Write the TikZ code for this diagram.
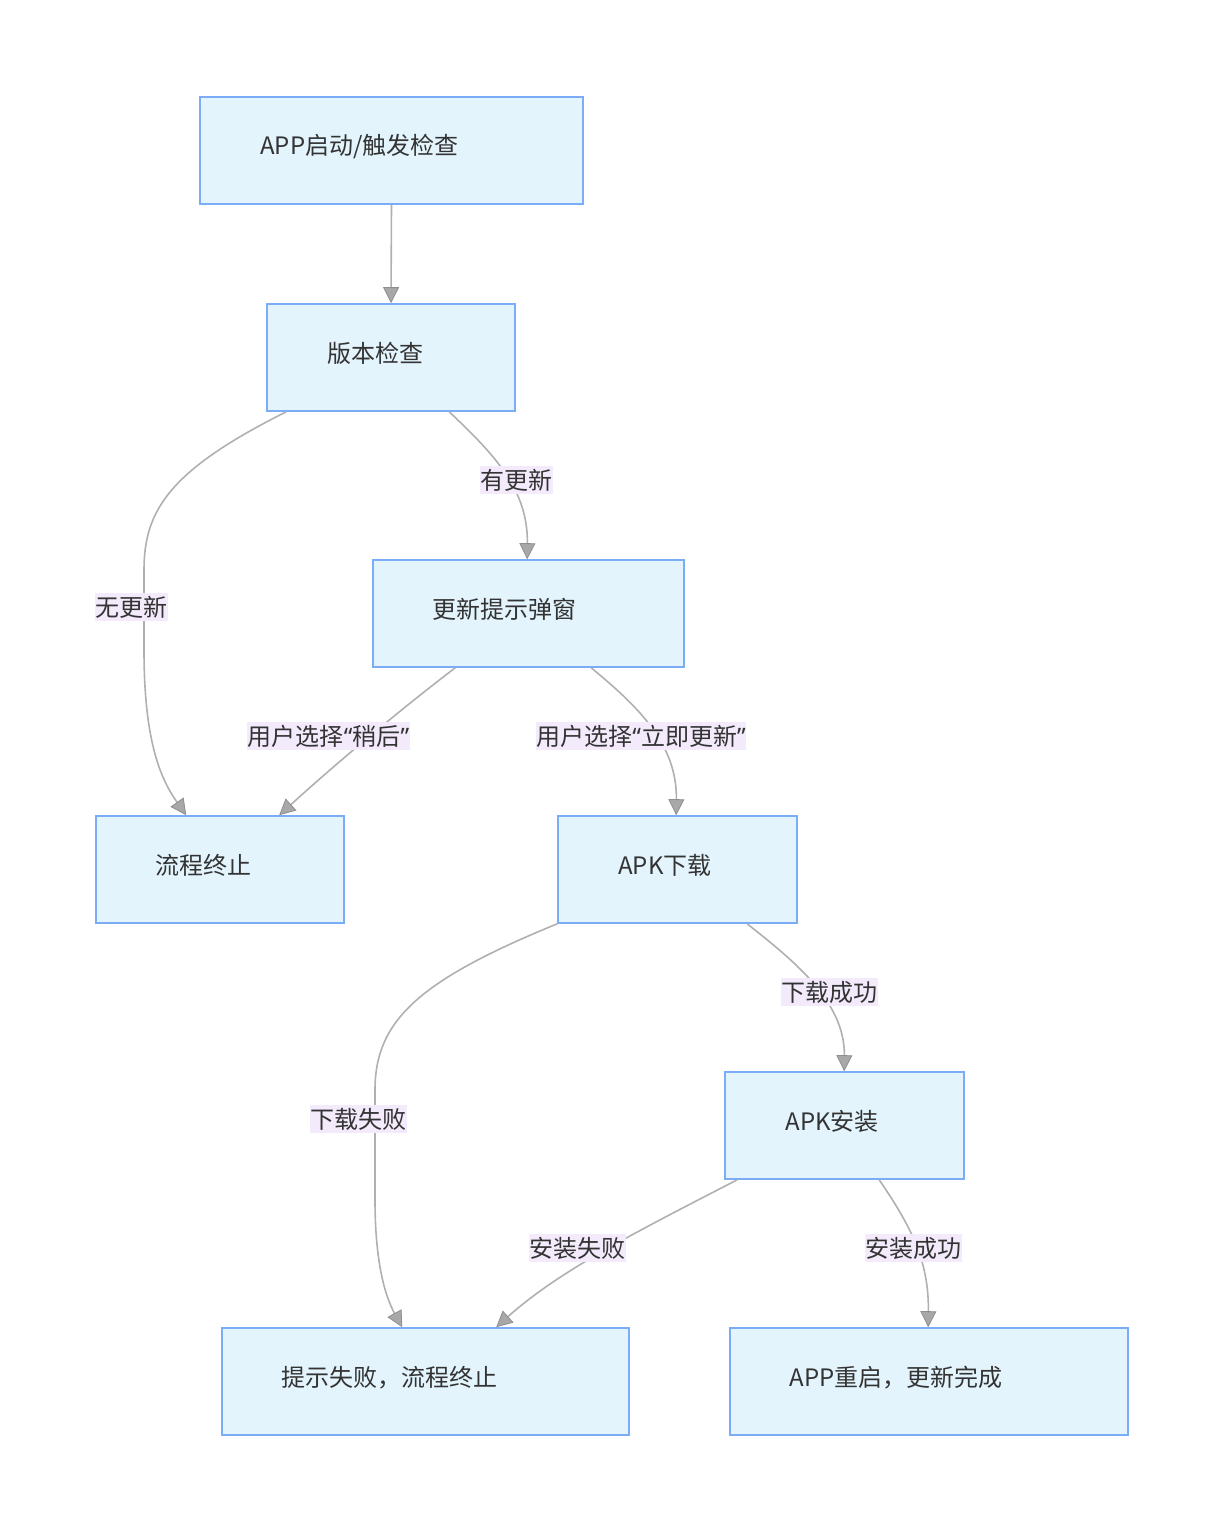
\documentclass[tikz,border=0pt]{standalone}
\usepackage{fontspec}
\newfontfamily\cjk{Noto Sans CJK SC}
\newfontfamily\qf{Noto Sans}
\newcommand{\myLq}{{\qf“}}
\newcommand{\myRq}{{\qf”}}
\usetikzlibrary{arrows.meta}
\definecolor{boxfill}{HTML}{E3F4FD}
\definecolor{boxline}{HTML}{7AACF8}
\definecolor{edgeline}{HTML}{B0B0B0}
\definecolor{tipfill}{HTML}{A8A8A8}
\definecolor{tipline}{HTML}{8E8E8E}
\definecolor{lblfill}{HTML}{F3EBFC}
\definecolor{txt}{HTML}{333333}
\tikzset{
  flowbox/.style={draw=boxline, fill=boxfill, line width=1.6pt, rectangle, minimum height=107pt, inner sep=0pt},
  boxtext/.style={font=\cjk\fontsize{24}{28}\selectfont, text=txt, anchor=west, inner sep=0pt},
  edgelbl/.style={font=\cjk\fontsize{24}{28}\selectfont, text=txt, fill=lblfill, inner xsep=0.5pt, inner ysep=3pt},
  conn/.style={draw=edgeline, line width=1.6pt, -{Triangle[length=16pt,width=16pt,fill=tipfill,color=tipline,line width=0.8pt]}},
}
\begin{document}
\begin{tikzpicture}[x=1pt,y=-1pt]
\useasboundingbox (0,0) rectangle (1224,1532);
% boxes
\node[flowbox, minimum width=383pt] (A) at (391.5,150.5) {};
\node[flowbox, minimum width=248pt] (B) at (391,357.5) {};
\node[flowbox, minimum width=311pt] (C) at (528.5,613.5) {};
\node[flowbox, minimum width=248pt] (D) at (220,869.5) {};
\node[flowbox, minimum width=239pt] (E) at (677.5,869.5) {};
\node[flowbox, minimum width=239pt] (F) at (844.5,1125.5) {};
\node[flowbox, minimum width=407pt] (G) at (425.5,1381.5) {};
\node[flowbox, minimum width=398pt] (H) at (929,1381.5) {};
% box texts
\node[boxtext] (tA) at ([xshift=61pt,yshift=-50pt]A.north west) {APP启动/触发检查};
\node[boxtext] (tB) at ([xshift=61pt,yshift=-50pt]B.north west) {版本检查};
\node[boxtext] (tC) at ([xshift=60pt,yshift=-50pt]C.north west) {更新提示弹窗};
\node[boxtext] (tD) at ([xshift=60pt,yshift=-50pt]D.north west) {流程终止};
\node[boxtext] (tE) at ([xshift=61pt,yshift=-50pt]E.north west) {APK下载};
\node[boxtext] (tF) at ([xshift=61pt,yshift=-50pt]F.north west) {APK安装};
\node[boxtext] (tG) at ([xshift=60pt,yshift=-50pt]G.north west) {提示失败，流程终止};
\node[boxtext] (tH) at ([xshift=60pt,yshift=-50pt]H.north west) {APP重启，更新完成};
% connectors
\draw[conn] (A.south) -- (B.north);
\draw[conn] ([xshift=20pt]B.south west) .. controls (170,470) and (144,510) .. (144,570) -- (144,650) .. controls (144,740) and (160,778) .. ([xshift=91pt]D.north west);
\draw[conn] ([xshift=183pt]B.south west) .. controls (495,455) and (528,490) .. ([xshift=155pt]C.north west);
\draw[conn] ([xshift=83pt]C.south west) .. controls (400,710) and (340,760) .. ([xshift=184pt]D.north west);
\draw[conn] ([xshift=219pt]C.south west) .. controls (640,708) and (677,745) .. ([xshift=119pt]E.north west);
\draw[conn] (E.south west) .. controls (420,980) and (375,1020) .. (375,1090) -- (375,1200) .. controls (375,1262) and (385,1296) .. ([xshift=181pt]G.north west);
\draw[conn] ([xshift=190pt]E.south west) .. controls (790,958) and (845,1000) .. ([xshift=120pt]F.north west);
\draw[conn] ([xshift=13pt]F.south west) .. controls (640,1230) and (560,1270) .. ([xshift=275pt]G.north west);
\draw[conn] ([xshift=155pt]F.south west) .. controls (910,1225) and (929,1260) .. ([xshift=199pt]H.north west);
% edge labels
\node[edgelbl] (l1) at (516.5,480) {有更新};
\node[edgelbl] (l2) at (131.5,607) {无更新};
\node[edgelbl] (l3) at (328.5,736) {用户选择\myLq 稍后\myRq};
\node[edgelbl] (l4) at (641,736) {用户选择\myLq 立即更新\myRq};
\node[edgelbl] (l5) at (829,992) {下载成功};
\node[edgelbl] (l6) at (358,1119) {下载失败};
\node[edgelbl] (l7) at (577.5,1248) {安装失败};
\node[edgelbl] (l8) at (913,1248) {安装成功};
\end{tikzpicture}
\end{document}
